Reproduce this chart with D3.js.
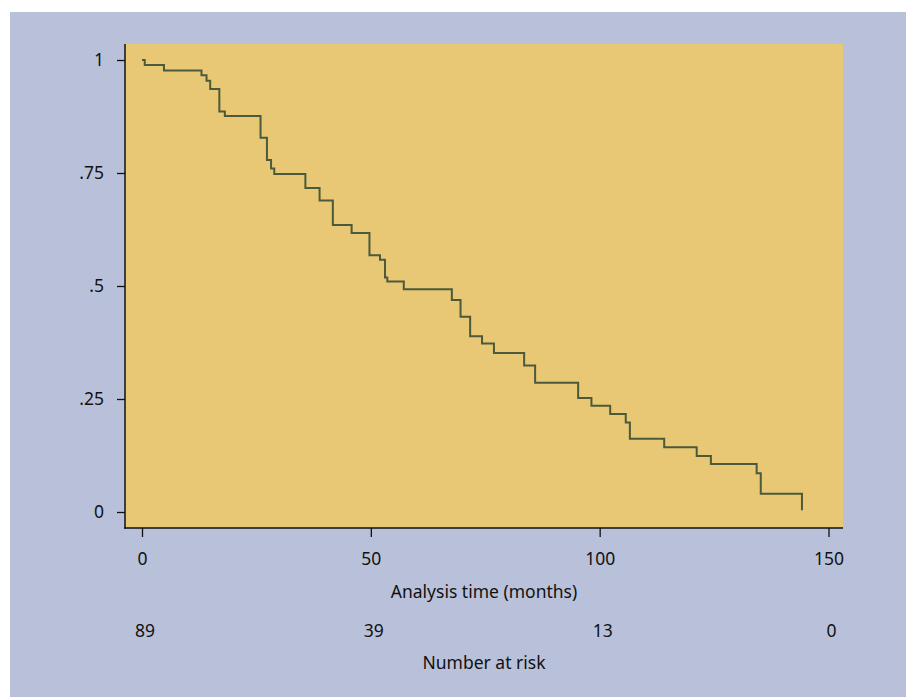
<!DOCTYPE html>
<html>
<head>
<meta charset="utf-8">
<script src="https://cdn.jsdelivr.net/npm/d3@7"></script>
<style>
  html, body { margin: 0; padding: 0; background: #ffffff; }
  svg { display: block; }
  text { font-family: "Noto Sans", "DejaVu Sans", sans-serif; fill: #111; }
</style>
</head>
<body>
<svg id="chart" width="906" height="697"></svg>
<script>
// ---- data ----
const times = [0, 0.6, 4.8, 13.0, 14.1, 14.9, 16.9, 18.1, 25.9, 27.3, 28.2, 28.9, 35.7, 38.8, 41.7, 45.8, 49.7, 52.0, 53.1, 53.6, 57.2, 67.7, 69.6, 71.7, 74.3, 76.9, 83.5, 85.9, 95.3, 98.2, 102.3, 105.7, 106.6, 114.1, 121.2, 124.3, 134.3, 135.2, 144.2];
const survival = [1, 0.989, 0.977, 0.966, 0.954, 0.936, 0.886, 0.876, 0.828, 0.779, 0.760, 0.748, 0.717, 0.689, 0.635, 0.617, 0.568, 0.558, 0.519, 0.510, 0.493, 0.469, 0.432, 0.389, 0.373, 0.352, 0.324, 0.286, 0.252, 0.235, 0.217, 0.198, 0.162, 0.143, 0.124, 0.106, 0.0856, 0.0405, 0.004];
const xTicks = [0, 50, 100, 150];
const yTicks = [0, 0.25, 0.5, 0.75, 1];
const yTickLabels = ["0", ".25", ".5", ".75", "1"];
const riskTimes = [0, 50, 100, 150];
const riskCounts = [89, 39, 13, 0];
const xTitle = "Analysis time (months)";
const riskTitle = "Number at risk";

// ---- layout ----
const FS = 17.5;
const svg = d3.select("#chart");
const plot = { left: 125, top: 44, right: 843, bottom: 528 };
const x = d3.scaleLinear().domain([0, 150]).range([142, 828.5]);
const y = d3.scaleLinear().domain([0, 1]).range([512, 60]);

svg.append("rect").attr("x", 10).attr("y", 12).attr("width", 896).attr("height", 685).attr("fill", "#B9C1DA");
svg.append("rect").attr("x", plot.left).attr("y", plot.top)
  .attr("width", plot.right - plot.left).attr("height", plot.bottom - plot.top)
  .attr("fill", "#E8C875");

// survival curve
const line = d3.line().x(d => x(d[0])).y(d => y(d[1])).curve(d3.curveStepAfter);
svg.append("path")
  .datum(times.map((t, i) => [t, survival[i]]))
  .attr("d", line)
  .attr("fill", "none")
  .attr("stroke", "#4A5A3A")
  .attr("stroke-width", 2);

// y axis
const yAxis = d3.axisLeft(y).tickValues(yTicks).tickFormat((d, i) => yTickLabels[i]).tickSize(8).tickPadding(13);
const gy = svg.append("g").attr("transform", `translate(${plot.left},0)`).call(yAxis);
gy.select(".domain").remove();
gy.append("line").attr("x1", 0).attr("x2", 0).attr("y1", plot.top).attr("y2", plot.bottom + 0.75)
  .attr("stroke", "#111").attr("stroke-width", 1.5);
gy.selectAll(".tick line").attr("stroke", "#111").attr("stroke-width", 1.3);
gy.selectAll(".tick text").attr("font-size", FS).attr("fill", "#111").style("font-family", '"Noto Sans", sans-serif');

// x axis
const xAxis = d3.axisBottom(x).tickValues(xTicks).tickFormat(d3.format("d")).tickSize(9).tickPadding(15.5);
const gx = svg.append("g").attr("transform", `translate(0,${plot.bottom})`).call(xAxis);
gx.select(".domain").remove();
gx.append("line").attr("x1", plot.left - 0.75).attr("x2", plot.right).attr("y1", 0).attr("y2", 0)
  .attr("stroke", "#111").attr("stroke-width", 1.5);
gx.selectAll(".tick line").attr("stroke", "#111").attr("stroke-width", 1.3);
gx.selectAll(".tick text").attr("font-size", FS).attr("fill", "#111").style("font-family", '"Noto Sans", sans-serif');

// x title
svg.append("text").attr("x", (plot.left + plot.right) / 2).attr("y", 598)
  .attr("text-anchor", "middle").attr("font-size", FS).text(xTitle);

// number at risk
svg.append("g").selectAll("text").data(riskTimes).join("text")
  .attr("x", d => x(d) + 3).attr("y", 637)
  .attr("text-anchor", "middle").attr("font-size", FS)
  .text((d, i) => riskCounts[i]);
svg.append("text").attr("x", (plot.left + plot.right) / 2).attr("y", 669)
  .attr("text-anchor", "middle").attr("font-size", FS).text(riskTitle);
</script>
</body>
</html>
